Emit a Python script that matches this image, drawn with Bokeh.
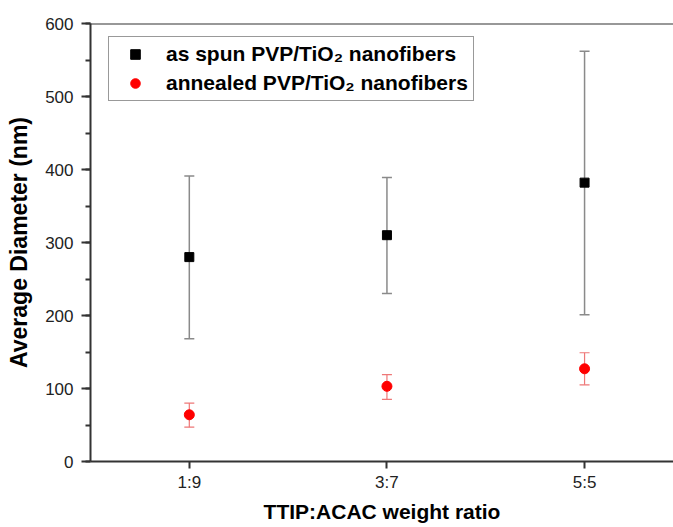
from bokeh.plotting import figure
from bokeh.models import (ColumnDataSource, Range1d, Whisker, TeeHead, Span, Legend, LegendItem,
                          SingleIntervalTicker, FixedTicker)
from bokeh.embed import file_html
from bokeh.resources import INLINE

# ---- data ----
ratios = ["1:9", "3:7", "5:5"]
spun_mean = [280, 310, 382]
spun_upper = [391, 389, 562]
spun_lower = [168, 230, 201]
annealed_mean = [64, 103, 127]
annealed_upper = [80, 119, 149]
annealed_lower = [47, 85, 105]

xpos = list(range(1, len(ratios) + 1))

spun_src = ColumnDataSource(dict(x=xpos, y=spun_mean, upper=spun_upper, lower=spun_lower))
ann_src = ColumnDataSource(dict(x=xpos, y=annealed_mean, upper=annealed_upper, lower=annealed_lower))

FONT = "Liberation Sans"
AXC = "#333333"

p = figure(width=673, height=527, output_backend="svg", toolbar_location=None,
           x_range=Range1d(0.5, 3.45), y_range=Range1d(0, 600),
           min_border_left=90, min_border_right=0, min_border_top=23, min_border_bottom=66)
p.outline_line_color = None
p.xgrid.visible = False
p.ygrid.visible = False
p.background_fill_color = "white"
p.border_fill_color = "white"

# error bars
w1 = Whisker(source=spun_src, base="x", upper="upper", lower="lower",
             line_color="#8a8a8a", line_width=1.5,
             upper_head=TeeHead(size=10, line_color="#8a8a8a", line_width=1.5),
             lower_head=TeeHead(size=10, line_color="#8a8a8a", line_width=1.5))
w2 = Whisker(source=ann_src, base="x", upper="upper", lower="lower",
             line_color="#ee7777", line_width=1.2,
             upper_head=TeeHead(size=10, line_color="#ee7777", line_width=1.2),
             lower_head=TeeHead(size=10, line_color="#ee7777", line_width=1.2))
p.add_layout(w1)
p.add_layout(w2)

sq = p.scatter("x", "y", source=spun_src, marker="square", size=9,
               fill_color="black", line_color="black")
ci = p.scatter("x", "y", source=ann_src, marker="circle", size=10,
               fill_color="#ff0000", line_color="#ff0000")

# axes
ya = p.yaxis[0]
ya.ticker = SingleIntervalTicker(interval=100, num_minor_ticks=2)
ya.axis_label = "Average Diameter (nm)"
xa = p.xaxis[0]
xa.ticker = FixedTicker(ticks=xpos, minor_ticks=[])
xa.major_label_overrides = {x: r for x, r in zip(xpos, ratios)}
xa.axis_label = "TTIP:ACAC weight ratio"

for ax in (xa, ya):
    ax.axis_line_color = AXC
    ax.axis_line_width = 2
    ax.major_tick_line_color = AXC
    ax.major_tick_line_width = 2
    ax.minor_tick_line_color = AXC
    ax.minor_tick_line_width = 2
    ax.major_tick_in = 0
    ax.minor_tick_in = 0
    ax.major_label_text_font = FONT
    ax.major_label_text_font_size = "17px"
    ax.major_label_text_color = "#222222"
    ax.axis_label_text_font = FONT
    ax.axis_label_text_font_style = "bold"
    ax.axis_label_text_color = "black"

ya.major_tick_out = 9
ya.minor_tick_out = 5
ya.major_label_standoff = 8
ya.axis_label_text_font_size = "23px"
ya.axis_label_standoff = 10

xa.major_tick_out = 7
xa.major_label_standoff = 4
xa.axis_label_text_font_size = "21px"
xa.axis_label_standoff = 5

# top frame line
p.add_layout(Span(location=600, dimension="width", line_color=AXC, line_width=2))

legend = Legend(items=[LegendItem(label="as spun PVP/TiO\u2082 nanofibers", renderers=[sq]),
                       LegendItem(label="annealed PVP/TiO\u2082 nanofibers", renderers=[ci])],
                location=(18, 360), orientation="vertical",
                padding=5, spacing=5, glyph_width=42, glyph_height=24, label_height=24,
                label_standoff=10, margin=0,
                label_text_font=FONT, label_text_font_style="bold", label_text_font_size="21px",
                label_text_color="black",
                border_line_color=AXC, border_line_width=1.5,
                background_fill_color="white", background_fill_alpha=1.0)
p.add_layout(legend)

open("out.html", "w").write(file_html(p, INLINE))
